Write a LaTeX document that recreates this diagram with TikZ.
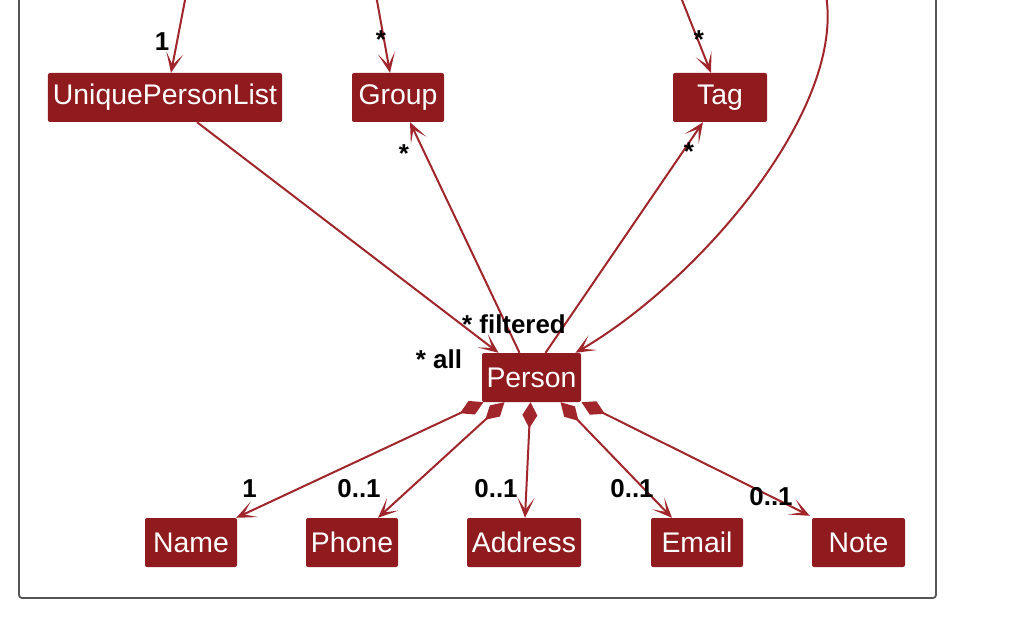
\documentclass[tikz,border=0pt]{standalone}
\usepackage{fontspec}
\setmainfont{Liberation Sans}
\usetikzlibrary{arrows.meta}
\definecolor{boxred}{RGB}{143,27,30}
\definecolor{linered}{RGB}{160,38,44}
\definecolor{framegray}{RGB}{85,85,85}
\begin{document}
\begin{tikzpicture}[x=1bp,y=-1bp,
  cls/.style={draw=none, fill=boxred, rounded corners=2bp, text=white,
    font=\fontsize{28.5}{30}\selectfont, minimum height=49bp, inner sep=0pt},
  conn/.style={draw=linered, line width=2bp,
    -{Stealth[length=20bp,width=17bp,inset=12bp]}},
  comp/.style={draw=linered, line width=2bp,
    {Diamond[length=26bp,width=15bp]}-{Stealth[length=20bp,width=17bp,inset=12bp]}},
  lbl/.style={font=\bfseries\fontsize{26}{28}\selectfont, text=black, inner sep=0pt}]
\useasboundingbox (0,0) rectangle (1034,630);
\draw[framegray, line width=1.8bp, rounded corners=3bp] (19,-20) rectangle (936,598);

% classes
\node[cls, minimum width=234bp] (upl) at (165,97.5) {UniquePersonList};
\node[cls, minimum width=92bp] (group) at (398,97.5) {Group};
\node[cls, minimum width=94bp] (tag) at (720,97.5) {Tag};
\node[cls, minimum width=99bp] (person) at (531.5,377.5) {Person};
\node[cls, minimum width=92bp] (name) at (191,542.5) {Name};
\node[cls, minimum width=92bp] (phone) at (352,542.5) {Phone};
\node[cls, minimum width=114bp] (address) at (524,542.5) {Address};
\node[cls, minimum width=92bp] (email) at (697,542.5) {Email};
\node[cls, minimum width=93bp] (note) at (858.5,542.5) {Note};

% free ends above the picture
\coordinate (inupl) at (186,-5);
\coordinate (ingroup) at (376,-5);
\coordinate (intag) at (680,-5);
\coordinate (incurve) at (826,-5);

% incoming from above
\draw[conn] (inupl) -- ([xshift=6bp]upl.north);
\draw[conn] (ingroup) -- ([xshift=-8bp]group.north);
\draw[conn] (intag) -- ([xshift=-9bp]tag.north);
\draw[conn] (incurve) .. controls (845,110) and (700,280) .. ([xshift=44bp]person.north);

% to/from person
\draw[conn] ([xshift=32bp]upl.south) -- ([xshift=-33bp]person.north);
\draw[conn] ([xshift=-12bp]person.north) -- ([xshift=12bp]group.south);
\draw[conn] ([xshift=14bp]person.north) -- ([xshift=-17bp]tag.south);

% compositions
\draw[comp] ([xshift=-48bp]person.south) -- ([xshift=-1bp]name.north east);
\draw[comp] ([xshift=-27bp]person.south) -- ([xshift=26bp]phone.north);
\draw[comp] ([xshift=-1bp]person.south) -- ([xshift=1bp]address.north);
\draw[comp] ([xshift=29bp]person.south) -- ([xshift=-25bp]email.north);
\draw[comp] ([xshift=50bp]person.south) -- ([xshift=-2bp,yshift=2bp]note.north west);

% labels
\node[lbl] (l1) at (162,42) {1};
\node[lbl] (l2) at (381,40) {*};
\node[lbl] (l3) at (699,40) {*};
\node[lbl] (l4) at (404,154) {*};
\node[lbl] (l5) at (689,152) {*};
\node[lbl] (l6) at (514,324) {* filtered};
\node[lbl] (l7) at (439,359) {* all};
\node[lbl] (l8) at (249.5,489) {1};
\node[lbl] (l9) at (359,489) {0..1};
\node[lbl] (l10) at (496,489) {0..1};
\node[lbl] (l11) at (632,489) {0..1};
\node[lbl] (l12) at (771,497) {0..1};
\end{tikzpicture}
\end{document}
